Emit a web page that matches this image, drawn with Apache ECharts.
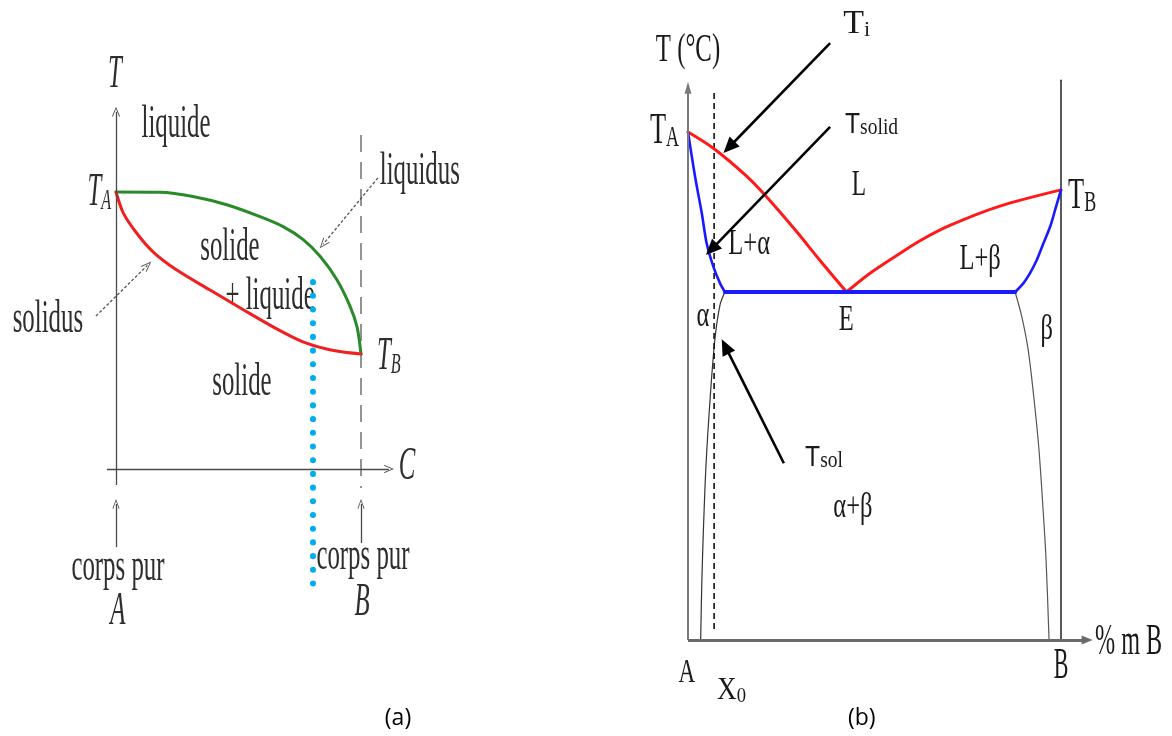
<!DOCTYPE html>
<html>
<head>
<meta charset="utf-8">
<title>Diagrammes de phases binaires</title>
<script src="https://cdn.jsdelivr.net/npm/echarts/dist/echarts.min.js"></script>
<style>
  html, body { margin: 0; padding: 0; background: #ffffff; }
  #chart { width: 1172px; height: 736px; }
</style>
</head>
<body>
<div id="chart"></div>
<script>
// ===== (a) miscibilité totale : x = C (% de B), y = T (unités relatives, T_A = 1000)
const liquidusA = [[0,1000],[18,999],[31.4,984],[45.2,954],[58.8,911],[68.2,875],[76.3,829],[83.3,768],[90.1,684],[95.5,588],[98.4,512],[100,415]];
const solidusA  = [[0,1000],[3,924],[8.4,852],[15.1,784],[24.8,718],[38.4,646],[51.8,576],[65.6,506],[76.3,459],[86,433],[92.7,422],[100,415]];
const alloyA    = [[80.4,675],[80.4,-462]];     // alliage étudié (pointillés)
const pureBA    = [[100,1206],[100,-69]];       // verticale du corps pur B
// flèches [départ, tête]
const axisTA    = [[0,-58],[0,1290]];
const axisCA    = [[-3.7,0],[111.4,0]];
const arrowPureA = [[0,-282],[0,-126]];
const arrowPureB = [[100,-267],[100,-126]];
const arrowLiquidus = [[106.9,1051],[84.6,812]];
const arrowSolidus  = [[-8.2,552],[12.8,735]];

// ===== (b) eutectique : x = % m B, y = T (°C)
const liquidusAlpha = [[0,1000],[6.8,968],[15.7,913],[21.1,872],[29.1,804],[35.4,747],[42.5,685]];
const liquidusBeta  = [[42.5,685],[48.8,722],[56.8,761],[62.2,786],[70.2,816],[83.6,854],[100,886]];
const solidusAlpha  = [[0,1000],[1.9,912],[3.7,840],[5.0,781],[6.8,735],[8.6,702],[9.9,685]];
const eutecticLine  = [[9.9,685],[87.7,685]];
const solidusBeta   = [[87.7,685],[89.9,702],[91.7,722],[93.5,748],[95.3,781],[97.1,814],[98.4,846],[100,886]];
const solvusAlpha   = [[9.9,685],[8.6,660],[7.2,591],[5.9,472],[4.8,340],[4.1,210],[3.7,112],[3.4,0]];
const solvusBeta    = [[87.7,685],[89.5,636],[91.2,571],[92.8,472],[94.1,374],[95.2,256],[96,157],[96.8,0]];
const alloyX0       = [[7,1077],[7,14]];
const pureBB        = [[100,1102],[100,0]];
const axisTB        = [[0,0],[0,1087]];
const axisXB        = [[0,0],[107,0]];
const arrowTi       = [[38.1,1175],[11.0,970]];
const arrowTsolid   = [[38.1,1010],[6.3,769]];
const arrowTsol     = [[25.7,348],[10.0,578]];

// ===== textes : [grille, position, morceaux, alignement, échelle horizontale]
// morceau : [texte, taille, italique, indice, famille]
const labelsA = [
  [0, [-0.4,1422], [['T',46,true]], 'center'],
  [0, [24.5,1242], [['liquide',46]], 'center'],
  [0, [-2.0,996],  [['T',46,true],['A',30,true,true]], 'right'],
  [0, [124,1072],  [['liquidus',46]], 'center'],
  [0, [46.5,798],  [['solide',46]], 'center'],
  [0, [62.9,621],  [['+ liquide',46]], 'center'],
  [0, [-27.8,538], [['solidus',46]], 'center'],
  [0, [106.5,404], [['T',46,true],['B',30,true,true]], 'left'],
  [0, [51.4,310],  [['solide',46]], 'center'],
  [0, [118.8,7],   [['C',46,true]], 'center'],
  [0, [0.8,-357],  [['corps pur',46]], 'center'],
  [0, [0.8,-516],  [['A',46,true]], 'center'],
  [0, [100.8,-318],[['corps pur',46]], 'center'],
  [0, [100.4,-484],[['B',46,true]], 'center']
];
const labelsB = [
  [1, [0,1161],    [['T (°C)',40]], 'center', 0.62],
  [1, [-2.4,1002], [['T',44],['A',30,false,true]], 'right', 0.6],
  [1, [101.9,874], [['T',44],['B',30,false,true]], 'left', 0.6],
  [1, [41.6,1213], [['T',34],['i',22,false,true]], 'left', 1],
  [1, [42.1,1014], [['T',29,false,false,'sans'],['solid',23,false,true]], 'left', 0.85],
  [1, [31.4,358],  [['T',29,false,false,'sans'],['sol',23,false,true]], 'left', 0.85],
  [1, [45.8,894],  [['L',36]], 'center', 0.65],
  [1, [16.4,778],  [['L+α',35]], 'center', 0.7],
  [1, [78.3,748],  [['L+β',35]], 'center', 0.7],
  [1, [42.4,628],  [['E',35]], 'center', 0.7],
  [1, [4.0,636],   [['α',35]], 'center', 0.7],
  [1, [96.2,610],  [['β',35]], 'center', 0.7],
  [1, [44.2,260],  [['α+β',35]], 'center', 0.7],
  [1, [-0.3,-65],  [['A',33]], 'center', 0.7],
  [1, [7.8,-100],  [['X',32],['0',22,false,true]], 'left', 0.85],
  [1, [100,-53],   [['B',44]], 'center', 0.5],
  [1, [109.1,-4],  [['% m B',44]], 'left', 0.55]
];
const captions = [[0, [115.1,-899], '(a)'], [1, [46.6,-153.5], '(b)']];

const SERIF = "'Liberation Serif', 'DejaVu Serif', serif";
const SANS = "'Liberation Sans', Arial, sans-serif";
const CAPTION_FONT = "'Open Sans', 'Noto Sans', sans-serif";

const chart = echarts.init(document.getElementById('chart'), null, { renderer: 'canvas' });

function curve(gi, data, color, width, extra) {
  return Object.assign({
    type: 'line', xAxisIndex: gi, yAxisIndex: gi, data: data,
    symbol: 'none', showSymbol: false, smooth: 0.3,
    silent: true, animation: false, clip: false,
    emphasis: { disabled: true },
    lineStyle: { color: color, width: width, cap: 'round', join: 'round' }
  }, extra || {});
}

const OPEN_HEAD = 'path://M5,0 L10,11 L9,11.6 L5,2.4 L1,11.6 L0,11 Z';
const SOLID_HEAD = 'path://M5,0 L10,14 L0,14 Z';

function arrowSeries(gi, items) {
  return {
    type: 'line', xAxisIndex: gi, yAxisIndex: gi, data: [], silent: true, animation: false,
    markLine: {
      silent: true, animation: false, precision: 10,
      label: { show: false }, emphasis: { disabled: true },
      lineStyle: { type: 'solid' },
      data: items.map(function (it) {
        return [
          { coord: it.path[0], symbol: 'none', lineStyle: it.style },
          { coord: it.path[1], symbol: it.head, symbolSize: it.size, symbolKeepAspect: false }
        ];
      })
    }
  };
}

const greyA = { color: '#4a4a4a', width: 1.3, type: 'solid' };

const option = {
  animation: false,
  backgroundColor: '#ffffff',
  grid: [
    { left: 18, top: 53.5, width: 441, height: 678.65 },
    { left: 613.4, top: 5, width: 552.04, height: 726.44 }
  ],
  xAxis: [
    { gridIndex: 0, type: 'value', min: -40, max: 140, show: false },
    { gridIndex: 1, type: 'value', min: -20, max: 128, show: false }
  ],
  yAxis: [
    { gridIndex: 0, type: 'value', min: -950, max: 1500, show: false },
    { gridIndex: 1, type: 'value', min: -180, max: 1250, show: false }
  ],
  series: [
    // ----- (a)
    curve(0, pureBA, '#5a5a5a', 1.3, { smooth: false, lineStyle: { color: '#5a5a5a', width: 1.3, type: [17, 10] } }),
    curve(0, liquidusA, '#2a8a2a', 3),
    curve(0, solidusA, '#f02020', 3),
    curve(0, alloyA, '#00aeef', 6, { smooth: false, z: 5, lineStyle: { color: '#00aeef', width: 6, type: [0.1, 13.6], cap: 'round' } }),
    arrowSeries(0, [
      { path: axisTA, style: greyA, head: OPEN_HEAD, size: [8, 10] },
      { path: axisCA, style: greyA, head: OPEN_HEAD, size: [8, 10] },
      { path: arrowPureA, style: greyA, head: OPEN_HEAD, size: [7, 10] },
      { path: arrowPureB, style: greyA, head: OPEN_HEAD, size: [7, 10] },
      { path: arrowLiquidus, style: { color: '#555', width: 1.3, type: [3, 2] }, head: OPEN_HEAD, size: [8, 11] },
      { path: arrowSolidus, style: { color: '#555', width: 1.3, type: [3, 2] }, head: OPEN_HEAD, size: [8, 11] }
    ]),
    // ----- (b)
    curve(1, pureBB, '#222', 1.5, { smooth: false }),
    curve(1, solvusAlpha, '#333', 1.2),
    curve(1, solvusBeta, '#555', 1.2),
    curve(1, alloyX0, '#111', 1.6, { smooth: false, lineStyle: { color: '#111', width: 1.6, type: [6, 4] } }),
    curve(1, liquidusAlpha, '#ff1a1a', 3),
    curve(1, liquidusBeta, '#ff1a1a', 3),
    curve(1, solidusAlpha, '#1a1aff', 2.6),
    curve(1, eutecticLine, '#1a1aff', 4, { smooth: false }),
    curve(1, solidusBeta, '#1a1aff', 2.6),
    arrowSeries(1, [
      { path: axisTB, style: { color: '#7a7a7a', width: 2, type: 'solid' }, head: SOLID_HEAD, size: [7, 12] },
      { path: axisXB, style: { color: '#6a6a6a', width: 3, type: 'solid' }, head: SOLID_HEAD, size: [9, 11] },
      { path: arrowTi, style: { color: '#000', width: 2.6, type: 'solid' }, head: SOLID_HEAD, size: [14, 16] },
      { path: arrowTsolid, style: { color: '#000', width: 2.6, type: 'solid' }, head: SOLID_HEAD, size: [14, 16] },
      { path: arrowTsol, style: { color: '#000', width: 2.6, type: 'solid' }, head: SOLID_HEAD, size: [14, 16] }
    ])
  ]
};
chart.setOption(option);

// ----- textes positionnés à partir des échelles des grilles
function buildLabel(def, fill, defaultScale) {
  const gi = def[0], at = def[1], parts = def[2], align = def[3];
  const sx = def[4] || defaultScale;
  const p = chart.convertToPixel({ gridIndex: gi }, at);
  const mainSize = parts[0][1];
  const rich = {};
  let text = '';
  parts.forEach(function (pt, i) {
    const key = 'p' + i;
    const isSub = !!pt[3];
    rich[key] = {
      fontSize: pt[1],
      fontFamily: pt[4] === 'sans' ? SANS : SERIF,
      fontStyle: pt[2] ? 'italic' : 'normal',
      fill: fill,
      lineHeight: isSub ? Math.round(mainSize * 0.5) : mainSize,
      verticalAlign: isSub ? 'bottom' : 'middle'
    };
    text += '{' + key + '|' + pt[0] + '}';
  });
  return {
    type: 'text', x: p[0], y: p[1], scaleX: sx, silent: true, z: 0,
    style: { text: text, rich: rich, fill: fill, fontFamily: SERIF, align: align, verticalAlign: 'middle' }
  };
}

const elements = [];
labelsA.forEach(function (d) { elements.push(buildLabel(d, '#2e2e2e', 0.54)); });
labelsB.forEach(function (d) { elements.push(buildLabel(d, '#1a1a1a', 0.7)); });
captions.forEach(function (c) {
  const p = chart.convertToPixel({ gridIndex: c[0] }, c[1]);
  elements.push({
    type: 'text', x: p[0], y: p[1], silent: true,
    style: { text: c[2], fontFamily: CAPTION_FONT, fontSize: 23, fill: '#000', align: 'center', verticalAlign: 'middle' }
  });
});
chart.setOption({ graphic: { elements: elements } });
</script>
</body>
</html>
